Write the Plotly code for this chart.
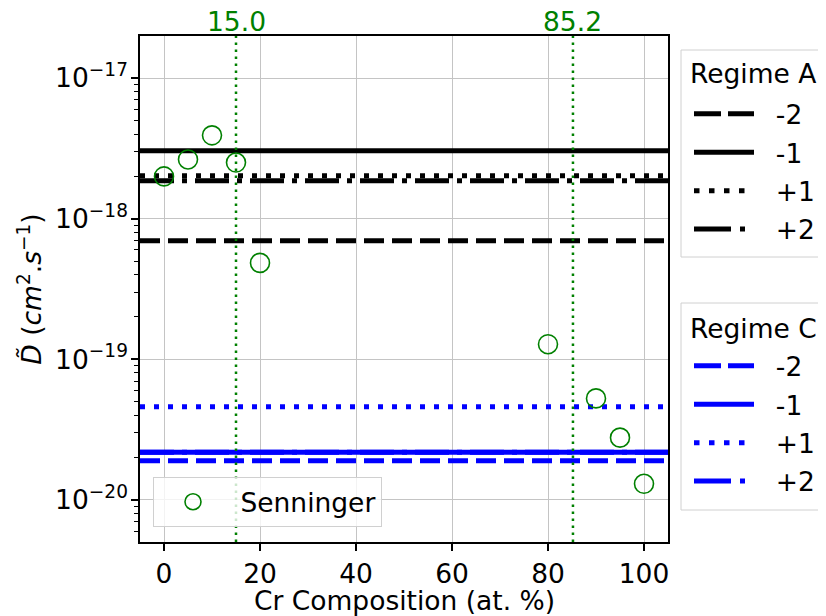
import plotly.graph_objects as go

# ---------------- data ----------------
X_RANGE = [-5, 105]
Y_RANGE_LOG = [-20.3, -16.7]

regime_labels = ["-2", "-1", "+1", "+2"]
regime_a_values = [6.97e-19, 3.05e-18, 2.02e-18, 1.86e-18]
regime_c_values = [1.90e-20, 2.18e-20, 4.60e-20, 2.18e-20]

senninger_x = [0, 5, 10, 15, 20, 80, 90, 95, 100]
senninger_y = [2.0e-18, 2.64e-18, 3.92e-18, 2.51e-18, 4.85e-19,
               1.28e-19, 5.27e-20, 2.77e-20, 1.30e-20]

vlines_x = [15.0, 85.2]
vline_labels = ["15.0", "85.2"]

ytick_vals = [1e-20, 1e-19, 1e-18, 1e-17]
ytick_text = ["10<sup>\u221220</sup>", "10<sup>\u221219</sup>",
              "10<sup>\u221218</sup>", "10<sup>\u221217</sup>"]
xtick_vals = [0, 20, 40, 60, 80, 100]

# ---------------- styles ----------------
FONT = "DejaVu Sans"
FS = 26.5
LW = 5
dashes = ["20px,8px", "solid", "5px,9px", "34px,8px,5px,8px"]
legend_dashes = ["27px,7px", "solid", "5.5px,9.5px", "37px,9px,5px,20px"]
GREEN = "#008000"
NB = "\u00a0"

# plot area in page pixels (page body adds an 8px offset)
PL, PR, PT, PB = 140, 668, 36, 542
W, H = PR - PL, PB - PT


def px_x(px):
    return (px - PL) / W


def px_y(py):
    return (PB - py) / H


fig = go.Figure()


def add_regime(values, color, legend):
    for i, (lab, val) in enumerate(zip(regime_labels, values)):
        fig.add_trace(go.Scatter(
            x=X_RANGE, y=[val, val], mode="lines",
            line=dict(color=color, width=LW, dash=dashes[i]),
            name=lab, showlegend=False, hoverinfo="skip",
        ))
        fig.add_trace(go.Scatter(
            x=[None], y=[None], mode="lines",
            line=dict(color=color, width=LW, dash=legend_dashes[i]),
            name=NB * 2 + lab, legend=legend, legendgroup=f"{legend}_{i}",
            hoverinfo="skip",
        ))


add_regime(regime_a_values, "black", "legend")
add_regime(regime_c_values, "blue", "legend2")

y_lo, y_hi = 10 ** Y_RANGE_LOG[0], 10 ** Y_RANGE_LOG[1]
for xv in vlines_x:
    fig.add_trace(go.Scatter(
        x=[xv, xv], y=[y_lo, y_hi], mode="lines",
        line=dict(color=GREEN, width=2.5, dash="2.5px,4.5px"),
        showlegend=False, hoverinfo="skip",
    ))

fig.add_trace(go.Scatter(
    x=senninger_x, y=senninger_y, mode="markers", name=NB + "Senninger",
    marker=dict(symbol="circle-open", size=19, color=GREEN,
                line=dict(width=1.6, color=GREEN)),
    legend="legend3",
))

for xv, lab in zip(vlines_x, vline_labels):
    fig.add_annotation(x=xv, y=1, xref="x", yref="paper", text=lab,
                       showarrow=False, yanchor="bottom", yshift=-3,
                       font=dict(family=FONT, size=FS, color=GREEN))

# legend frames + titles for the two regime legends
frames = [("Regime A", 50, 257, 73), ("Regime C", 303, 510, 328)]
for title, top, bot, ty in frames:
    fig.add_shape(type="rect", xref="paper", yref="paper",
                  x0=px_x(681), x1=px_x(840), y0=px_y(bot), y1=px_y(top),
                  line=dict(color="#d0d0d0", width=1),
                  fillcolor="rgba(255,255,255,0.8)", layer="below")
    fig.add_annotation(x=px_x(688), y=px_y(ty), xref="paper", yref="paper",
                       text=title, showarrow=False, xanchor="left",
                       yanchor="middle",
                       font=dict(family=FONT, size=FS, color="black"))

# x-axis title
fig.add_annotation(x=0.5, y=px_y(600), xref="paper", yref="paper",
                   text="Cr Composition (at. %)", showarrow=False,
                   xanchor="center", yanchor="middle",
                   font=dict(family=FONT, size=FS, color="black"))

legend_common = dict(
    font=dict(family=FONT, size=FS, color="black"),
    bgcolor="rgba(0,0,0,0)", borderwidth=0,
    tracegroupgap=1, xanchor="left", yanchor="top", itemwidth=60,
)

fig.update_layout(
    width=826, height=616,
    margin=dict(l=PL - 8, r=826 - PR + 8, t=PT - 8, b=616 - PB + 8,
                autoexpand=False),
    paper_bgcolor="white", plot_bgcolor="white",
    font=dict(family=FONT, size=FS, color="black"),
    showlegend=True,
    legend=dict(x=px_x(689), y=px_y(90), **legend_common),
    legend2=dict(x=px_x(689), y=px_y(342), **legend_common),
    legend3=dict(x=px_x(153), y=px_y(527), xanchor="left", yanchor="bottom",
                 font=dict(family=FONT, size=FS, color="black"),
                 bgcolor="rgba(255,255,255,0.8)", bordercolor="#d0d0d0",
                 borderwidth=1, itemwidth=68),
    xaxis=dict(
        range=X_RANGE, tickvals=xtick_vals, ticks="outside", ticklen=7,
        tickwidth=1.5, tickcolor="black", showline=True, linecolor="black",
        linewidth=1.5, mirror=True, showgrid=True, gridcolor="#c4c4c4",
        gridwidth=1, zeroline=False,
        tickfont=dict(family=FONT, size=FS),
    ),
    yaxis=dict(
        type="log", range=Y_RANGE_LOG, tickvals=ytick_vals, ticktext=ytick_text,
        ticks="outside", ticklen=7, tickwidth=1.5, tickcolor="black",
        showline=True, linecolor="black", linewidth=1.5, mirror=True,
        showgrid=True, gridcolor="#c4c4c4", gridwidth=1, zeroline=False,
        ticklabelstandoff=-2,
        tickfont=dict(family=FONT, size=FS),
        minor=dict(ticks="outside", ticklen=4, tickwidth=1, tickcolor="black",
                   showgrid=False,
                   tickvals=[m * 10 ** e for e in range(-21, -16) for m in range(2, 10)]),
        title=dict(text="<i>D\u0303</i> (<i>cm</i><sup>2</sup>.<i>s</i><sup>\u22121</sup>)",
                   font=dict(family=FONT, size=FS), standoff=6),
    ),
)

fig.write_html("out.html")
